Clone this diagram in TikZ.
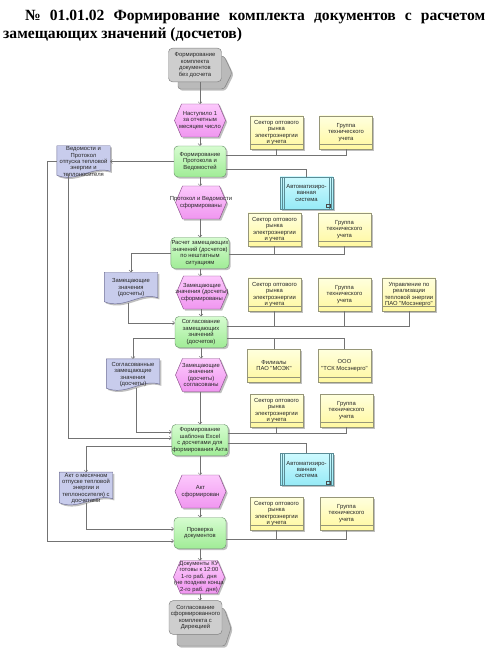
\documentclass[tikz,border=0pt]{standalone}
\usepackage{fontspec}
\setmainfont{Liberation Serif}
\newfontfamily\boxfont{Liberation Sans}
\usetikzlibrary{arrows.meta}
\usetikzlibrary{shadows}
\pgfdeclarelayer{bg}
\pgfsetlayers{bg,main}
\definecolor{fntop}{RGB}{214,252,208}
\definecolor{fnbot}{RGB}{160,236,150}
\definecolor{fnline}{RGB}{110,150,110}
\definecolor{evtop}{RGB}{252,200,252}
\definecolor{evbot}{RGB}{240,150,240}
\definecolor{evline}{RGB}{140,80,140}
\definecolor{orgtop}{RGB}{255,255,222}
\definecolor{orgbot}{RGB}{255,248,160}
\definecolor{orgline}{RGB}{150,150,120}
\definecolor{docfill}{RGB}{200,204,236}
\definecolor{docline}{RGB}{110,110,150}
\definecolor{systop}{RGB}{205,250,255}
\definecolor{sysbot}{RGB}{150,234,246}
\definecolor{sysline}{RGB}{90,140,150}
\definecolor{iffill}{RGB}{206,206,206}
\definecolor{ifback}{RGB}{186,186,186}
\tikzset{
  title/.style = {inner sep = 0, font = \bfseries\fontsize{13.3}{16}\selectfont},
  box/.style = {align = center, inner sep = 0.5pt, text = black!85,
    font = \boxfont\fontsize{5}{5.5}\selectfont},
  shade/.style = {drop shadow = {shadow xshift = 0.5mm, shadow yshift = -0.5mm, fill = black!50}},
  func/.style = {box, rectangle, rounded corners = 1.2mm, draw = fnline, top color = fntop,
    bottom color = fnbot, minimum width = 15.6mm, minimum height = 9.3mm, shade},
  event/.style = {box, rectangle, minimum width = 15.3mm, minimum height = 9.9mm},
  evshape/.style = {draw = evline, top color = evtop, bottom color = evbot, shade},
  org/.style = {box, rectangle, draw = orgline, top color = orgtop, bottom color = orgbot,
    minimum width = 15.9mm, minimum height = 9.9mm, shade},
  sys/.style = {box, rectangle, draw = sysline, top color = systop, bottom color = sysbot,
    minimum width = 15.9mm, minimum height = 9.6mm, shade},
  doc/.style = {box, rectangle, minimum width = 15.9mm, minimum height = 9.3mm},
  docshape/.style = {draw = docline, fill = docfill, shade},
  iface/.style = {box, rectangle, rounded corners = 1.2mm, draw = black!50, fill = iffill,
    minimum width = 15.9mm, minimum height = 10.1mm},
  ifaceback/.style = {draw = black!50, fill = ifback, rounded corners = 0.8mm, shade},
  flow/.style = {draw = black!55, line width = 0.4pt, -{Straight Barb[length = 1.6pt, width = 3.2pt]}},
  link/.style = {draw = black!55, line width = 0.4pt}
}

\begin{document}
\begin{tikzpicture}[x = 0.3mm, y = -0.3mm]
  \useasboundingbox (0, 0) rectangle (491, 657);

  \node [title, anchor = base west] (t1) at (25, 21)
    {\makebox[138mm][s]{№ 01.01.02 Формирование комплекта документов с расчетом}};
  \node [title, anchor = base west] (t2) at (3, 38.5) {замещающих значений (досчетов)};

  \draw [ifaceback] (178, 56) -- (224, 56) -- (232, 73) -- (224, 89) -- (178, 89) -- cycle;
  \node [iface] (start) at (195, 65) {Формирование\\комплекта\\документов\\без досчета};

  \node [event] (ev1) at (200, 120.5) {Наступило 1\\за отчетным\\месяцем число};
  \node [func] (fn1) at (200, 161.5) {Формирование\\Протокола и\\Ведомостей};
  \node [event] (ev2) at (201, 202.5) {Протокол и Ведомости\\сформированы};
  \node [func] (fn2) at (200, 253) {Расчет замещающих\\значений (досчетов)\\по нештатным\\ситуациям};
  \node [event] (ev3) at (202, 292.5) {Замещающие\\значения (досчеты)\\сформированы};
  \node [func] (fn3) at (201, 332) {Согласование\\замещающих\\значений\\(досчетов)};
  \node [event] (ev4) at (201, 375) {Замещающие\\значения\\(досчеты)\\согласованы};
  \node [func] (fn4) at (200, 440) {Формирование\\шаблона Excel\\с досчетами для\\формирования Акта};
  \node [event] (ev5) at (200.5, 491.5) {Акт\\сформирован};
  \node [func] (fn5) at (200, 533) {Проверка\\документов};
  \node [event] (ev6) at (199, 577) {Документы КУ\\готовы к 12:00\\1-го раб. дня\\(не позднее конца\\2-го раб. дня)};

  \draw [ifaceback] (177, 608) -- (224, 608) -- (231, 628) -- (225, 646) -- (177, 646) -- cycle;
  \node [iface] (end) at (195.5, 617.5) {Согласование\\сформированного\\комплекта с\\Дирекцией};

  \node [doc] (ved) at (83.5, 161.5) {Ведомости и\\Протокол\\отпуска тепловой\\энергии и\\теплоносителя};
  \node [doc] (zam) at (131, 288) {Замещающие\\значения\\(досчеты)};
  \node [doc] (sogl) at (133, 374.5) {Согласованные\\замещающие\\значения\\(досчеты)};
  \node [doc] (akt) at (86, 488.5) {Акт о месячном\\отпуске тепловой\\энергии и\\теплоносителя) с\\досчетами};

  \node [org] (o1a) at (276.5, 132.5) {Сектор оптового\\рынка\\электроэнергии\\и учета};
  \node [org] (o1b) at (346, 132.5) {Группа\\технического\\учета};
  \node [sys] (sys1) at (306.5, 193) {Автоматизиро-\\ванная\\система};
  \node [org] (o2a) at (274.5, 229.5) {Сектор оптового\\рынка\\электроэнергии\\и учета};
  \node [org] (o2b) at (344.5, 229.5) {Группа\\технического\\учета};
  \node [org] (o3a) at (274.5, 294.5) {Сектор оптового\\рынка\\электроэнергии\\и учета};
  \node [org] (o3b) at (344.5, 294.5) {Группа\\технического\\учета};
  \node [org] (o3c) at (409, 294.5) {Управление по\\реализации\\тепловой энергии\\ПАО "Мосэнерго"};
  \node [org] (o4a) at (274, 365.5) {Филиалы\\ПАО "МОЭК"};
  \node [org] (o4b) at (344.5, 365.5) {ООО\\"ТСК Мосэнерго"};
  \node [org] (o5a) at (276.5, 410.5) {Сектор оптового\\рынка\\электроэнергии\\и учета};
  \node [org] (o5b) at (346.5, 410.5) {Группа\\технического\\учета};
  \node [sys] (sys2) at (306.5, 469.5) {Автоматизиро-\\ванная\\система};
  \node [org] (o6a) at (276.5, 513.5) {Сектор оптового\\рынка\\электроэнергии\\и учета};
  \node [org] (o6b) at (346.5, 513.5) {Группа\\технического\\учета};

  \begin{pgfonlayer}{bg}
    \foreach \d in {ved, zam, sogl, akt}
      \draw [docshape] (\d.north west) -- (\d.north east) -- ([shift = {(0, -6)}]\d.south east)
        .. controls ([shift = {(-18, -12)}]\d.south east) and ([shift = {(20, 6)}]\d.south west)
        .. ([shift = {(0, -2)}]\d.south west) -- cycle;
    \foreach \e in {ev1, ev2, ev3, ev4, ev5, ev6}
      \draw [evshape] ([shift = {(-18.5, -16.5)}]\e.center) -- ([shift = {(18.5, -16.5)}]\e.center)
        -- ([shift = {(25.5, 0)}]\e.center) -- ([shift = {(18.5, 16.5)}]\e.center)
        -- ([shift = {(-18.5, 16.5)}]\e.center) -- ([shift = {(-25.5, 0)}]\e.center) -- cycle;
  \end{pgfonlayer}

  \foreach \o in {o1a, o1b, o2a, o2b, o3a, o3b, o3c, o4a, o4b, o5a, o5b, o6a, o6b}
    \draw [orgline, line width = 0.3pt] ([yshift = 1.4mm]\o.south west) -- ([yshift = 1.4mm]\o.south east);
  \foreach \s in {sys1, sys2} {
    \draw [sysline, line width = 0.3pt] ([xshift = 0.6mm]\s.north west) -- ([xshift = 0.6mm]\s.south west);
    \draw [sysline, line width = 0.3pt] ([xshift = 1.2mm]\s.north west) -- ([xshift = 1.2mm]\s.south west);
    \draw [sysline, line width = 0.3pt] ([xshift = -0.6mm]\s.north east) -- ([xshift = -0.6mm]\s.south east);
    \draw [sysline, line width = 0.3pt] ([xshift = -1.2mm]\s.north east) -- ([xshift = -1.2mm]\s.south east);
    \draw [black!70, line width = 0.25pt] ([shift = {(-7, -2)}]\s.south east) rectangle ([shift = {(-3, -5)}]\s.south east);
  }

  \draw [flow] (fn1.north |- start.south) -- ([yshift = 4.95mm]ev1.center -| fn1.north);
  \foreach \a/\b in {ev1/fn1, ev2/fn2, ev3/fn3, ev4/fn4, ev5/fn5}
    \draw [flow] ([yshift = -4.95mm]\a.center -| \b.north) -- (\b.north);
  \foreach \a/\b in {fn1/ev2, fn2/ev3, fn3/ev4, fn4/ev5, fn5/ev6}
    \draw [flow] (\a.south) -- ([yshift = 4.95mm]\b.center -| \a.south);
  \draw [flow] ([yshift = -4.95mm]ev6.center -| fn5.south) -- (fn5.south |- end.north);

  \draw [link] (fn1.east |- 0, 155) -| (o1b.south);
  \draw [link] (o1a.south) -- (o1a.south |- 0, 155);
  \draw [link] (fn1.east |- 0, 169) -| (sys1.north);
  \draw [link] (fn2.east |- 0, 254) -| (o2b.south);
  \draw [link] (o2a.south) -- (o2a.south |- 0, 254);
  \draw [link] (fn3.east |- 0, 326) -| (o3c.south);
  \foreach \o in {o3a, o3b}
    \draw [link] (\o.south) -- (\o.south |- 0, 326);
  \draw [link] (fn3.east |- 0, 338) -| (o4b.north);
  \draw [link] (o4a.north) -- (o4a.north |- 0, 338);
  \draw [link] (fn4.east |- 0, 433) -| (o5b.south);
  \draw [link] (o5a.south) -- (o5a.south |- 0, 433);
  \draw [link] (fn4.east |- 0, 443) -| (sys2.north);
  \draw [link] (fn5.east |- 0, 539) -| (o6b.south);
  \draw [link] (o6a.south) -- (o6a.south |- 0, 539);

  \draw [flow] (fn1.west) -- (ved.east);
  \draw [flow] (ved.west) -- ++(-9.5, 0) |- ([yshift = -2.4mm]fn5.west);
  \draw [flow] ([shift = {(-15.5, -3)}]ved.south) |- ([yshift = 0.6mm]fn4.west);
  \draw [flow] (fn2.west) -| (zam.north);
  \draw [flow] ([shift = {(-3, -1)}]zam.south) |- ([yshift = 2.7mm]fn3.west);
  \draw [flow] ([yshift = -1.8mm]fn3.west) -| (sogl.north);
  \draw [flow] ([shift = {(3, -2)}]sogl.south) |- ([yshift = 2.4mm]fn4.west);
  \draw [flow] ([yshift = -1.8mm]fn4.west) -| (akt.north);
  \draw [flow] ([shift = {(0, -2)}]akt.south) |- ([yshift = 1.2mm]fn5.west);
\end{tikzpicture}
\end{document}
